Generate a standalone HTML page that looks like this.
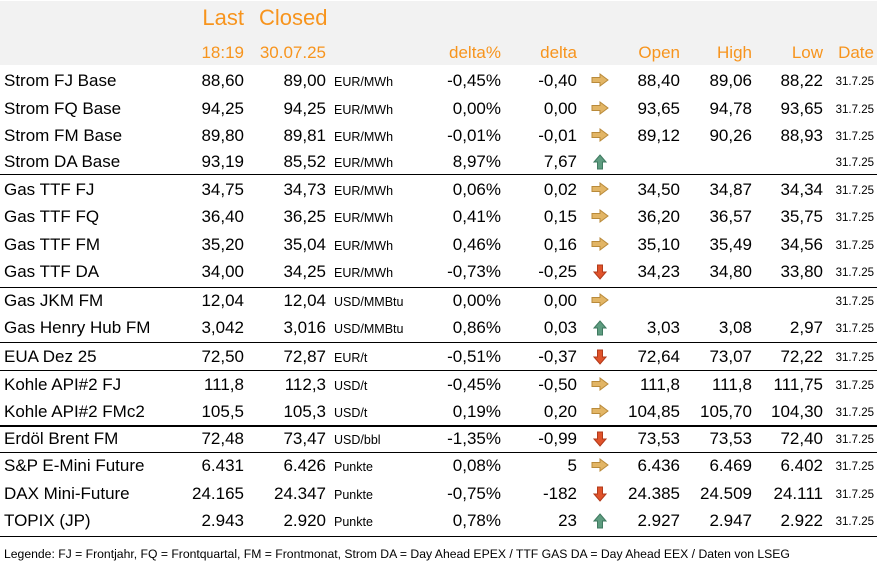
<!DOCTYPE html>
<html><head><meta charset="utf-8"><style>
body{margin:0;width:878px;height:568px;background:#fff;position:relative;overflow:hidden;font-family:"Liberation Sans",sans-serif;color:#000}
.a{position:absolute;white-space:nowrap;line-height:20px}
.r{text-align:right}
.h{color:#f7941d}
.ln{position:absolute;left:0;width:877px;background:#000}
</style></head><body>
<div style="position:absolute;left:0;top:1px;width:877px;height:64px;background:#f2f2f2"></div>
<div class="a h r" style="right:634px;top:8px;font-size:22px">Last</div>
<div class="a h" style="left:259px;top:8px;font-size:22px">Closed</div>
<div class="a h r" style="right:634px;top:43px;font-size:17px">18:19</div>
<div class="a h r" style="right:552px;top:43px;font-size:17px">30.07.25</div>
<div class="a h r" style="right:377px;top:43px;font-size:17px">delta%</div>
<div class="a h r" style="right:301px;top:43px;font-size:17px">delta</div>
<div class="a h r" style="right:198px;top:43px;font-size:17px">Open</div>
<div class="a h r" style="right:126px;top:43px;font-size:17px">High</div>
<div class="a h r" style="right:55px;top:43px;font-size:17px">Low</div>
<div class="a h r" style="right:4px;top:43px;font-size:17px">Date</div>
<div id="rows"></div>
<div class="a" style="left:4px;top:544px;font-size:12.2px">Legende: FJ = Frontjahr, FQ = Frontquartal, FM = Frontmonat, Strom DA = Day Ahead EPEX / TTF GAS DA = Day Ahead EEX / Daten von LSEG</div>
<script>
const names=["Strom FJ Base","Strom FQ Base","Strom FM Base","Strom DA Base","Gas TTF FJ","Gas TTF FQ","Gas TTF FM","Gas TTF DA","Gas JKM FM","Gas Henry Hub FM","EUA Dez 25","Kohle API#2 FJ","Kohle API#2 FMc2","Erdöl Brent FM","S&P E-Mini Future","DAX Mini-Future","TOPIX (JP)"];
const last=["88,60","94,25","89,80","93,19","34,75","36,40","35,20","34,00","12,04","3,042","72,50","111,8","105,5","72,48","6.431","24.165","2.943"];
const closed=["89,00","94,25","89,81","85,52","34,73","36,25","35,04","34,25","12,04","3,016","72,87","112,3","105,3","73,47","6.426","24.347","2.920"];
const units=["EUR/MWh","EUR/MWh","EUR/MWh","EUR/MWh","EUR/MWh","EUR/MWh","EUR/MWh","EUR/MWh","USD/MMBtu","USD/MMBtu","EUR/t","USD/t","USD/t","USD/bbl","Punkte","Punkte","Punkte"];
const deltaPct=["-0,45%","0,00%","-0,01%","8,97%","0,06%","0,41%","0,46%","-0,73%","0,00%","0,86%","-0,51%","-0,45%","0,19%","-1,35%","0,08%","-0,75%","0,78%"];
const delta=["-0,40","0,00","-0,01","7,67","0,02","0,15","0,16","-0,25","0,00","0,03","-0,37","-0,50","0,20","-0,99","5","-182","23"];
const trend=["r","r","r","u","r","r","r","d","r","u","d","r","r","d","r","d","u"];
const open=["88,40","93,65","89,12","","34,50","36,20","35,10","34,23","","3,03","72,64","111,8","104,85","73,53","6.436","24.385","2.927"];
const high=["89,06","94,78","90,26","","34,87","36,57","35,49","34,80","","3,08","73,07","111,8","105,70","73,53","6.469","24.509","2.947"];
const low=["88,22","93,65","88,93","","34,34","35,75","34,56","33,80","","2,97","72,22","111,75","104,30","72,40","6.402","24.111","2.922"];
const dates=names.map(()=> "31.7.25");
const rowY=[81,109,136,162,190,217,245,272,301,328,357,385,412,439,466,494,521];
const lines=[[174,1],[287,1],[342,1],[370,1],[425,2],[452,1],[536,1]];
const root=document.getElementById('rows');
function cell(txt,style,name,size){const d=document.createElement('div');d.className='a';d.textContent=txt;d.style.cssText=style+';font-size:'+size+'px';


root.appendChild(d);}
const svgs={r:'<svg width="18" height="14" viewBox="0 0 18 14"><path d="M1 4.5H9V1L17 7L9 13V9.5H1Z" fill="#e2b565" stroke="#b98a3a" stroke-width="1"/></svg>',
u:'<svg width="14" height="16" viewBox="0 0 14 16"><path d="M7 1L13 8H9.5V15H4.5V8H1Z" fill="#5e9c80" stroke="#3f7a60" stroke-width="1"/></svg>',
d:'<svg width="14" height="16" viewBox="0 0 14 16"><path d="M7 15L13 8H9.5V1H4.5V8H1Z" fill="#e0532b" stroke="#b23a1a" stroke-width="1"/></svg>'};
names.forEach((n,i)=>{const t=rowY[i]-10;
cell(n,'left:4px;top:'+t+'px','row-name',17);
cell(last[i],'right:634px;text-align:right;top:'+t+'px','last-value',17);
cell(closed[i],'right:552px;text-align:right;top:'+t+'px','closed-value',17);
cell(units[i],'left:334px;top:'+(t+1)+'px','unit',12.5);
cell(deltaPct[i],'right:377px;text-align:right;top:'+t+'px','delta-pct',17);
cell(delta[i],'right:301px;text-align:right;top:'+t+'px','delta',17);
cell(open[i],'right:198px;text-align:right;top:'+t+'px','open-value',17);
cell(high[i],'right:126px;text-align:right;top:'+t+'px','high-value',17);
cell(low[i],'right:55px;text-align:right;top:'+t+'px','low-value',17);
cell(dates[i],'right:4px;text-align:right;top:'+(t+1)+'px','date-value',11.5);
const a=document.createElement('div');a.className='a';a.style.cssText='left:'+(trend[i]==='r'?591:593)+'px;top:'+(rowY[i]-8)+'px;line-height:0';a.innerHTML=svgs[trend[i]];


root.appendChild(a);});
lines.forEach(l=>{const d=document.createElement('div');d.className='ln';d.style.top=l[0]+'px';d.style.height=l[1]+'px';


root.appendChild(d);});
</script>
</body></html>
